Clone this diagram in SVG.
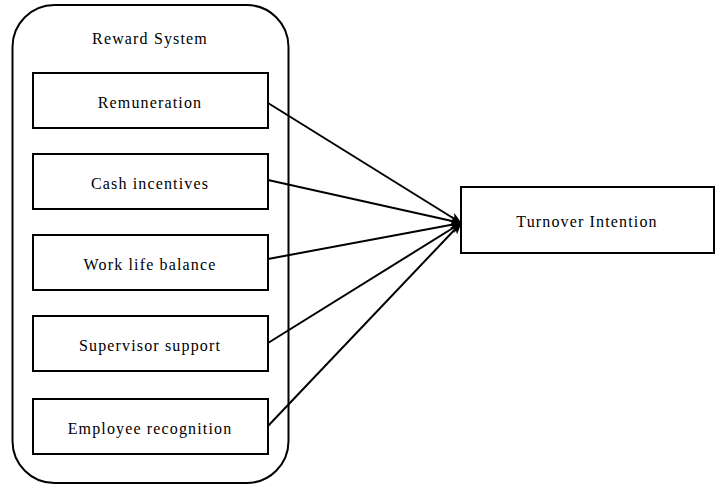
<svg xmlns="http://www.w3.org/2000/svg" width="717" height="486" viewBox="0 0 717 486">
<style>
.box{fill:#fff;stroke:#000;stroke-width:2}
.t{font-family:'Liberation Serif',serif;font-size:16px;letter-spacing:1.15px;fill:#000;text-anchor:middle}
.c{stroke:#000;stroke-width:2;fill:none;marker-end:url(#ah)}
</style>
<defs>
<marker id="ah" markerWidth="12" markerHeight="10" refX="11" refY="5" orient="auto" markerUnits="userSpaceOnUse">
<path d="M0,0 L12,5 L0,10 L3,5 Z" fill="#000"/>
</marker>
</defs>
<rect width="717" height="486" fill="#fff"/>
<g id="reward-system">
<rect class="box" x="12.5" y="5" width="276" height="478" rx="42" ry="42"/>
<text class="t" x="150" y="44">Reward System</text>
</g>
<g id="remuneration">
<rect class="box" x="33" y="73" width="235" height="55"/>
<text class="t" x="150" y="108">Remuneration</text>
</g>
<g id="cash">
<rect class="box" x="33" y="154" width="235" height="55"/>
<text class="t" x="150" y="189">Cash incentives</text>
</g>
<g id="worklife">
<rect class="box" x="33" y="235" width="235" height="55"/>
<text class="t" x="150" y="270">Work life balance</text>
</g>
<g id="supervisor">
<rect class="box" x="33" y="316" width="235" height="55"/>
<text class="t" x="150" y="351">Supervisor support</text>
</g>
<g id="recognition">
<rect class="box" x="33" y="399" width="235" height="55"/>
<text class="t" x="150" y="434">Employee recognition</text>
</g>
<g id="turnover">
<rect class="box" x="461" y="187" width="253" height="66"/>
<text class="t" x="587" y="227">Turnover Intention</text>
</g>
<g id="connectors">
<line class="c" x1="268" y1="103" x2="461" y2="223"/>
<line class="c" x1="268" y1="180" x2="461" y2="223"/>
<line class="c" x1="268" y1="259" x2="461" y2="223"/>
<line class="c" x1="268" y1="343" x2="461" y2="223"/>
<line class="c" x1="268" y1="426" x2="461" y2="223"/>
</g>
</svg>
